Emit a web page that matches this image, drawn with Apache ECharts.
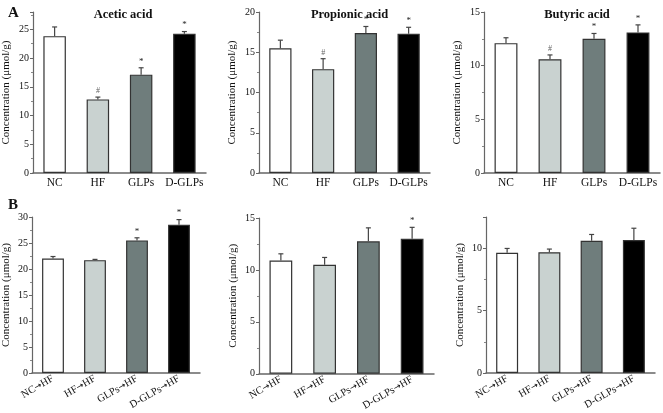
<!DOCTYPE html>
<html><head><meta charset="utf-8">
<script src="https://cdn.jsdelivr.net/npm/echarts@6/dist/echarts.min.js"></script>
<style>html,body{margin:0;padding:0;background:#fff}#c{width:663px;height:413px}</style>
</head><body><div id="c"></div>
<script>
const categoriesA = ['NC', 'HF', 'GLPs', 'D-GLPs'];
const categoriesB = ['NC\u2192HF', 'HF\u2192HF', 'GLPs\u2192HF', 'D-GLPs\u2192HF'];
const titlesA = ['Acetic acid', 'Propionic acid', 'Butyric acid'];

const aceticA = [23.8, 12.8, 17.1, 24.2];
const aceticAErr = [1.6, 0.4, 1.2, 0.4];
const aceticASig = ['', '#', '*', '*'];
const propionicA = [15.5, 12.9, 17.4, 17.3];
const propionicAErr = [1.0, 1.3, 0.8, 0.8];
const propionicASig = ['', '#', '*', '*'];
const butyricA = [12.1, 10.6, 12.5, 13.1];
const butyricAErr = [0.5, 0.4, 0.5, 0.7];
const butyricASig = ['', '#', '*', '*'];

const aceticB = [22.0, 21.7, 25.5, 28.5];
const aceticBErr = [0.4, 0.15, 0.5, 1.0];
const aceticBSig = ['', '', '*', '*'];
const propionicB = [10.9, 10.5, 12.75, 13.0];
const propionicBErr = [0.65, 0.7, 1.3, 1.1];
const propionicBSig = ['', '', '', '*'];
const butyricB = [9.63, 9.68, 10.6, 10.65];
const butyricBErr = [0.35, 0.25, 0.5, 0.95];
const butyricBSig = ['', '', '', ''];

const yMax = [28, 20, 15, 30, 15, 12.5];
const yInterval = [5, 5, 5, 5, 5, 5];

const barColors = ['#ffffff', '#c9d2d0', '#6f7d7c', '#000000'];
const font = 'Liberation Serif';

const panels = [
  {vals: aceticA, err: aceticAErr, sig: aceticASig, cats: categoriesA, grid: {left: 30, top: 12, width: 176, height: 161}},
  {vals: propionicA, err: propionicAErr, sig: propionicASig, cats: categoriesA, grid: {left: 259, top: 12, width: 171, height: 161}},
  {vals: butyricA, err: butyricAErr, sig: butyricASig, cats: categoriesA, grid: {left: 484, top: 12, width: 176, height: 161}},
  {vals: aceticB, err: aceticBErr, sig: aceticBSig, cats: categoriesB, grid: {left: 31, top: 217, width: 169, height: 156}},
  {vals: propionicB, err: propionicBErr, sig: propionicBSig, cats: categoriesB, grid: {left: 259, top: 218, width: 175, height: 156}},
  {vals: butyricB, err: butyricBErr, sig: butyricBSig, cats: categoriesB, grid: {left: 486, top: 217, width: 169, height: 156}}
];

const grids = [], xAxes = [], yAxes = [], series = [], titles = [];
panels.forEach((p, k) => {
  grids.push(p.grid);
  const isB = k >= 3;
  xAxes.push({
    type: 'category', gridIndex: k, data: p.cats,
    axisLine: {lineStyle: {color: '#666', width: 1.5}},
    axisTick: {show: false},
    axisLabel: isB ? {
      rotate: 30, fontFamily: font, fontSize: 10.5, color: '#111', margin: 5, interval: 0,
      formatter: function (v) { const parts = v.split('\u2192'); return parts[0] + '{a|\u2192}' + parts[1]; },
      rich: {a: {fontFamily: 'DejaVu Sans', fontSize: 9, color: '#111'}}
    } : {fontFamily: font, fontSize: 11.5, color: '#111', margin: 4, interval: 0}
  });
  yAxes.push({
    type: 'value', gridIndex: k, min: 0, max: yMax[k], interval: yInterval[k],
    name: 'Concentration (\u03bcmol/g)', nameLocation: 'middle', nameGap: isB ? 20 : 21,
    nameTextStyle: {fontFamily: font, fontSize: 11, color: '#111'},
    axisLine: {show: true, lineStyle: {color: '#666', width: 1.2}},
    axisTick: {show: true, length: 3, lineStyle: {color: '#666'}},
    minorTick: {show: true, splitNumber: 2, length: 2, lineStyle: {color: '#888'}},
    splitLine: {show: false},
    axisLabel: {fontFamily: font, fontSize: 10, color: '#111', margin: 4, showMaxLabel: yMax[k] % yInterval[k] === 0}
  });
  series.push({
    type: 'bar', xAxisIndex: k, yAxisIndex: k, barWidth: '52%',
    data: p.vals.map((v, i) => ({value: v, itemStyle: {color: barColors[i]}})),
    itemStyle: {borderColor: '#333', borderWidth: 1.2},
    z: 2
  });
  series.push({
    type: 'custom', xAxisIndex: k, yAxisIndex: k, z: 3,
    data: p.vals.map((v, i) => [i, v, p.err[i]]),
    renderItem: function (params, api) {
      const i = api.value(0), v = api.value(1), e = api.value(2);
      const base = api.coord([i, v]);
      const top = api.coord([i, v + e]);
      const children = [
        {type: 'line', shape: {x1: base[0], y1: base[1], x2: top[0], y2: top[1]}, style: {stroke: '#444', lineWidth: 1.2}},
        {type: 'line', shape: {x1: top[0] - 2.5, y1: top[1], x2: top[0] + 2.5, y2: top[1]}, style: {stroke: '#444', lineWidth: 1.2}}
      ];
      const s = p.sig[params.dataIndex];
      if (s) {
        children.push({type: 'text', style: {text: s, x: top[0], y: top[1] - 2, textAlign: 'center', textVerticalAlign: 'bottom',
          font: (s === '#' ? '8px ' : '9px ') + font, fill: s === '#' ? '#666' : '#222'}});
      }
      return {type: 'group', children: children};
    }
  });
  if (!isB) {
    titles.push({text: titlesA[k], left: p.grid.left + p.grid.width / 2, top: 3, textAlign: 'center',
      textStyle: {fontFamily: font, fontSize: 12.5, fontWeight: 'bold', color: '#111'}});
  }
});
titles.push({text: 'A', left: 3, top: 1, textStyle: {fontFamily: font, fontSize: 15, fontWeight: 'bold', color: '#111'}});
titles.push({text: 'B', left: 3, top: 193, textStyle: {fontFamily: font, fontSize: 15, fontWeight: 'bold', color: '#111'}});

const chart = echarts.init(document.getElementById('c'), null, {renderer: 'canvas'});
chart.setOption({animation: false, backgroundColor: '#fff', title: titles, grid: grids, xAxis: xAxes, yAxis: yAxes, series: series});
</script></body></html>
